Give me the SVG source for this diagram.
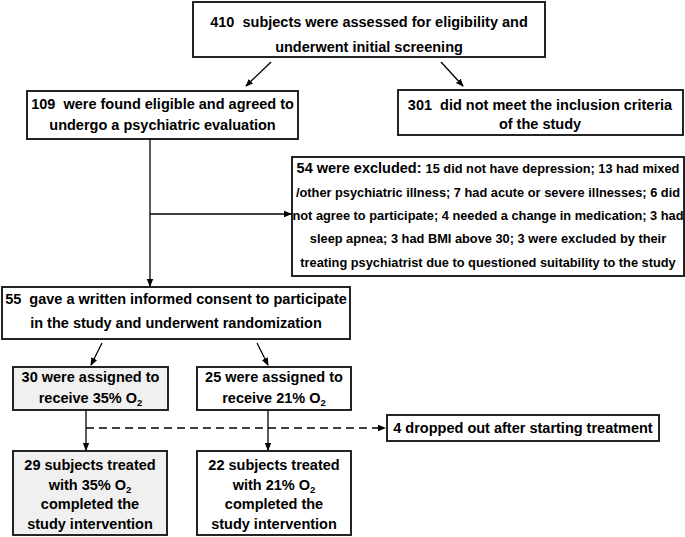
<svg xmlns="http://www.w3.org/2000/svg" width="685" height="537" viewBox="0 0 685 537">
<defs>
<marker id="ah" markerWidth="8" markerHeight="8" refX="7" refY="4" orient="auto" markerUnits="userSpaceOnUse">
<path d="M0,0.8 L8,4 L0,7.2 Z" fill="#000"/>
</marker>
<style>
.box{fill:#fff;stroke:#1a1a1a;stroke-width:1.9}
.grey{fill:#f0f0f0}
.t{font-family:"Liberation Sans",Arial,sans-serif;font-weight:bold;font-size:14.5px;fill:#000;text-anchor:middle}
.s{font-size:12.8px}
.c{stroke:#000;stroke-width:1.3;fill:none}
.d{stroke-dasharray:8,5}
.sub{font-size:9.5px}
</style>
</defs>
<rect width="685" height="537" fill="#fff"/>
<g id="n410">
<rect class="box" x="193" y="2" width="352" height="55"/>
<text class="t" x="369" y="27">410&#160; subjects were assessed for eligibility and</text>
<text class="t" x="369" y="52">underwent initial screening</text>
</g>
<g id="n109">
<rect class="box" x="27" y="91" width="271" height="48"/>
<text class="t" x="162.5" y="109">109&#160; were found eligible and agreed to</text>
<text class="t" x="162.5" y="130">undergo a psychiatric evaluation</text>
</g>
<g id="n301">
<rect class="box" x="398" y="90" width="285" height="45"/>
<text class="t" x="540" y="110">301&#160; did not meet the inclusion criteria</text>
<text class="t" x="540" y="129">of the study</text>
</g>
<g id="n54">
<rect class="box" x="292" y="157" width="392" height="119"/>
<text class="t" x="488" y="172.5">54 were excluded: <tspan class="s">15 did not have depression; 13 had mixed</tspan></text>
<text class="t s" x="488" y="196.5">/other psychiatric illness; 7 had acute or severe illnesses; 6 did</text>
<text class="t s" x="488" y="219.5">not agree to participate; 4 needed a change in medication; 3 had</text>
<text class="t s" x="488" y="242.5">sleep apnea; 3 had BMI above 30; 3 were excluded by their</text>
<text class="t s" x="488" y="266.5">treating psychiatrist due to questioned suitability to the study</text>
</g>
<g id="n55">
<rect class="box" x="2" y="287" width="348" height="52"/>
<text class="t" x="176" y="304">55&#160; gave a written informed consent to participate</text>
<text class="t" x="176" y="328">in the study and underwent randomization</text>
</g>
<g id="n30">
<rect class="box grey" x="13" y="367" width="155" height="43"/>
<text class="t" x="90.5" y="382">30 were assigned to</text>
<text class="t" x="90.5" y="403">receive 35% O<tspan class="sub" dy="3">2</tspan></text>
</g>
<g id="n25">
<rect class="box" x="197" y="367" width="154" height="43"/>
<text class="t" x="274" y="382">25 were assigned to</text>
<text class="t" x="274" y="403">receive 21% O<tspan class="sub" dy="3">2</tspan></text>
</g>
<g id="n4">
<rect class="box" x="387" y="415" width="272" height="26"/>
<text class="t" x="523" y="433">4 dropped out after starting treatment</text>
</g>
<g id="n29">
<rect class="box grey" x="13" y="451" width="154" height="84"/>
<text class="t" x="90" y="470">29 subjects treated</text>
<text class="t" x="90" y="489.5">with 35% O<tspan class="sub" dy="3">2</tspan></text>
<text class="t" x="90" y="509">completed the</text>
<text class="t" x="90" y="528.5">study intervention</text>
</g>
<g id="n22">
<rect class="box" x="197" y="451" width="154" height="84"/>
<text class="t" x="274" y="470">22 subjects treated</text>
<text class="t" x="274" y="489.5">with 21% O<tspan class="sub" dy="3">2</tspan></text>
<text class="t" x="274" y="509">completed the</text>
<text class="t" x="274" y="528.5">study intervention</text>
</g>
<g id="connectors">
<line class="c" x1="271" y1="62" x2="246" y2="86" marker-end="url(#ah)"/>
<line class="c" x1="441" y1="62" x2="463" y2="86" marker-end="url(#ah)"/>
<line class="c" x1="150" y1="139" x2="150" y2="286" marker-end="url(#ah)"/>
<line class="c" x1="150" y1="214" x2="291" y2="214" marker-end="url(#ah)"/>
<line class="c" x1="102" y1="343" x2="91" y2="365" marker-end="url(#ah)"/>
<line class="c" x1="257" y1="343" x2="268" y2="365" marker-end="url(#ah)"/>
<line class="c" x1="86" y1="410" x2="86" y2="450" marker-end="url(#ah)"/>
<line class="c" x1="268" y1="410" x2="268" y2="450" marker-end="url(#ah)"/>
<line class="c d" x1="86" y1="428" x2="385" y2="428" marker-end="url(#ah)"/>
</g>
</svg>
